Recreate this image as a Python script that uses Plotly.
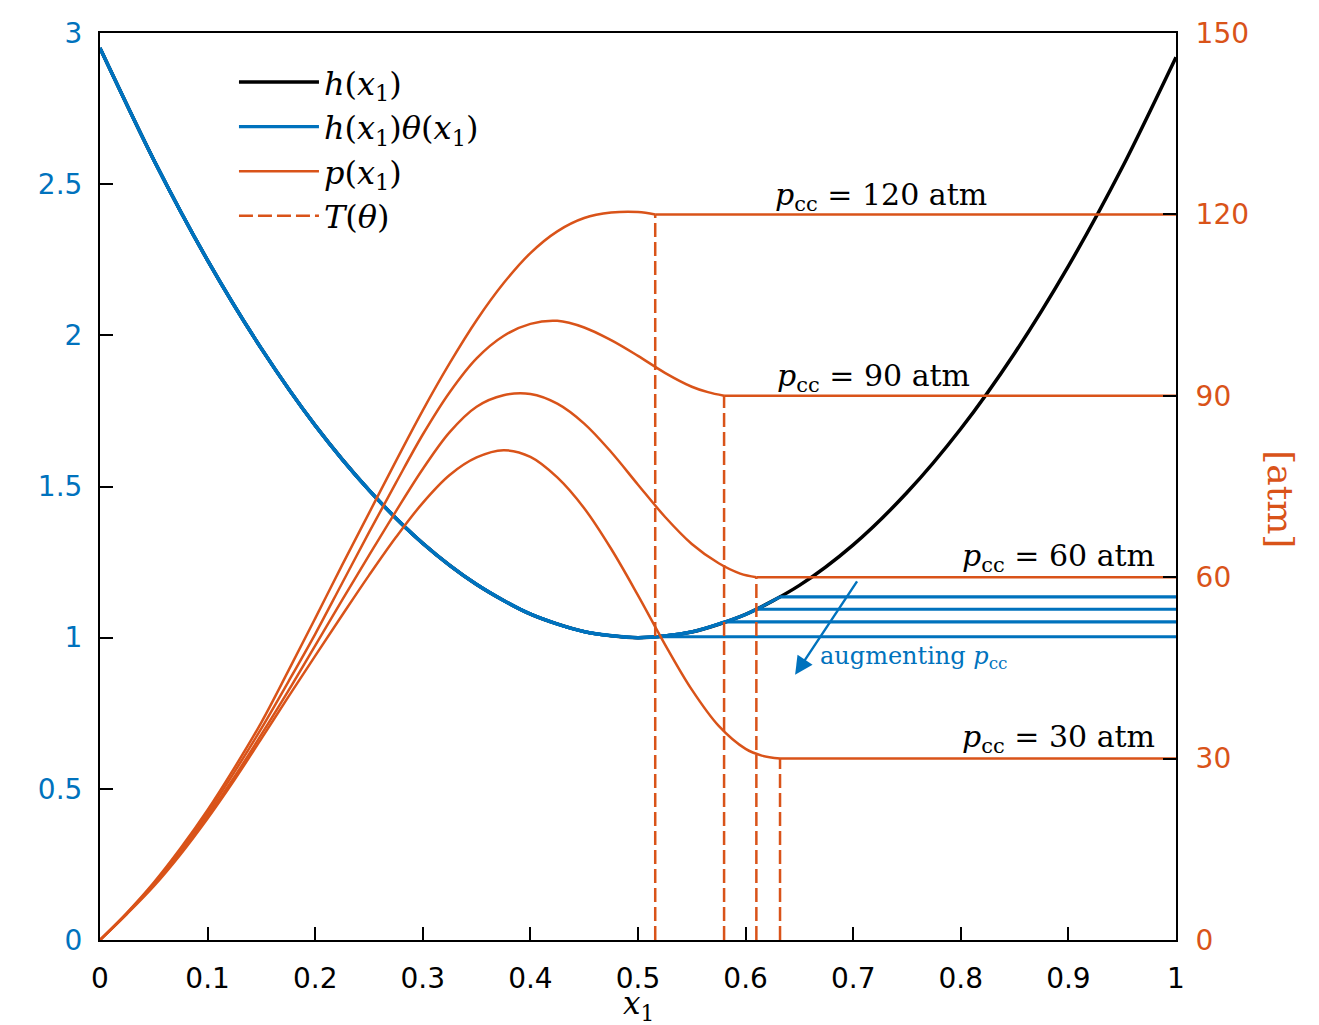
import plotly.graph_objects as go

BLUE = "#0072BD"
ORANGE = "#D95319"

# ---- data ----
x_h = [0, 0.05, 0.1, 0.15, 0.2, 0.25, 0.3, 0.35, 0.4, 0.45, 0.5,
       0.55, 0.6, 0.65, 0.7, 0.75, 0.8, 0.85, 0.9, 0.95, 1.0]
h_vals = [2.95, 2.58, 2.248, 1.956, 1.702, 1.488, 1.312, 1.176, 1.078, 1.02, 1.0,
          1.019, 1.077, 1.173, 1.307, 1.48, 1.691, 1.941, 2.229, 2.555, 2.92]

p_cc = [120, 90, 60, 30]                      # atm
x_switch = [0.516, 0.580, 0.610, 0.632]       # where T(theta) dashed lines sit
theta_level = [1.003, 1.052, 1.094, 1.135]    # h*theta plateau levels

x_p120 = [0, 0.025, 0.05, 0.075, 0.1, 0.125, 0.15, 0.175, 0.2, 0.225, 0.25, 0.275, 0.3,
          0.325, 0.35, 0.375, 0.4, 0.425, 0.45, 0.475, 0.5, 0.516]
p_p120 = [0, 4.5, 9.5, 15.2, 21.5, 28.5, 36, 44.5, 53.2, 62, 70.6, 79.2, 87.6,
          95.4, 102.5, 108.6, 113.6, 117.2, 119.4, 120.3, 120.4, 120]

x_p90 = [0, 0.025, 0.05, 0.075, 0.1, 0.125, 0.15, 0.175, 0.2, 0.225, 0.25, 0.275, 0.3,
         0.325, 0.35, 0.375, 0.4, 0.425, 0.45, 0.475, 0.5, 0.525, 0.55, 0.565, 0.58]
p_p90 = [0, 4.4, 9.3, 14.9, 21, 27.8, 35, 42.7, 50.6, 59, 67.4, 75.6, 83.6,
         90.6, 96.2, 99.9, 101.9, 102.4, 101.3, 99.2, 96.6, 93.8, 91.5, 90.6, 90]

x_p60 = [0, 0.025, 0.05, 0.075, 0.1, 0.125, 0.15, 0.175, 0.2, 0.225, 0.25, 0.275, 0.3,
         0.325, 0.35, 0.375, 0.4, 0.425, 0.45, 0.475, 0.5, 0.525, 0.55, 0.575, 0.595, 0.61]
p_p60 = [0, 4.4, 9.1, 14.5, 20.5, 27, 34, 41.2, 48.7, 56.2, 63.6, 70.9, 77.9,
         84, 88.2, 90.1, 90.3, 88.7, 85.4, 80.7, 75.3, 70, 65.5, 62.3, 60.6, 60]

x_p30 = [0, 0.025, 0.05, 0.075, 0.1, 0.125, 0.15, 0.175, 0.2, 0.225, 0.25, 0.275, 0.3,
         0.325, 0.35, 0.375, 0.4, 0.425, 0.45, 0.475, 0.5, 0.525, 0.55, 0.575, 0.6, 0.615, 0.632]
p_p30 = [0, 4.3, 8.9, 14.2, 20.1, 26.5, 33.3, 40.2, 47, 53.7, 60.3, 66.6, 72.3,
         76.9, 79.8, 81, 79.9, 76.5, 71.4, 64.7, 57, 48.9, 41.4, 35.4, 31.6, 30.5, 30]

x_ticks = [0, 0.1, 0.2, 0.3, 0.4, 0.5, 0.6, 0.7, 0.8, 0.9, 1]
x_ticktext = ["0", "0.1", "0.2", "0.3", "0.4", "0.5", "0.6", "0.7", "0.8", "0.9", "1"]
yl_ticks = [0, 0.5, 1, 1.5, 2, 2.5, 3]
yl_ticktext = ["0", "0.5", "1", "1.5", "2", "2.5", "3"]
yr_ticks = [0, 30, 60, 90, 120, 150]
yr_ticktext = ["0", "30", "60", "90", "120", "150"]

p_curves_x = [x_p120, x_p90, x_p60, x_p30]
p_curves_y = [p_p120, p_p90, p_p60, p_p30]

LEG_H = "<i>h</i>(<i>x</i><sub>1</sub>)"
LEG_HT = "<i>h</i>(<i>x</i><sub>1</sub>)<i>θ</i>(<i>x</i><sub>1</sub>)"
LEG_P = "<i>p</i>(<i>x</i><sub>1</sub>)"
LEG_T = "<i>T</i>(<i>θ</i>)"

fig = go.Figure()

# black h(x1)
fig.add_trace(go.Scatter(x=x_h, y=h_vals, mode="lines", name=LEG_H,
                         line=dict(color="black", width=3.5, shape="spline", smoothing=0.8),
                         legendgroup="a", showlegend=True, yaxis="y"))

# blue h*theta curves
for i, (xs, lv) in enumerate(zip(x_switch, theta_level)):
    cx = [x for x in x_h if x < xs] + [xs]
    cy = [h for x, h in zip(x_h, h_vals) if x < xs] + [lv]
    fig.add_trace(go.Scatter(x=cx, y=cy, mode="lines", name=LEG_HT,
                             line=dict(color=BLUE, width=3.2, shape="spline", smoothing=0.8),
                             legendgroup="b", showlegend=(i == 0), yaxis="y"))
    fig.add_trace(go.Scatter(x=[xs, 1.0], y=[lv, lv], mode="lines",
                             line=dict(color=BLUE, width=3.2),
                             legendgroup="b", showlegend=False, yaxis="y"))

# orange p(x1) curves
for i, (px, py, pc, xs) in enumerate(zip(p_curves_x, p_curves_y, p_cc, x_switch)):
    fig.add_trace(go.Scatter(x=px, y=py, mode="lines", name=LEG_P,
                             line=dict(color=ORANGE, width=2.5, shape="spline", smoothing=1.0),
                             legendgroup="c", showlegend=(i == 0), yaxis="y2"))
    fig.add_trace(go.Scatter(x=[px[-1], 1.0], y=[pc, pc], mode="lines",
                             line=dict(color=ORANGE, width=2.5),
                             legendgroup="c", showlegend=False, yaxis="y2"))

# dashed T(theta)
for i, (pc, xs) in enumerate(zip(p_cc, x_switch)):
    fig.add_trace(go.Scatter(x=[xs, xs], y=[0, pc], mode="lines", name=LEG_T,
                             line=dict(color=ORANGE, width=2.5, dash="14px,5px"),
                             legendgroup="d", showlegend=(i == 0), yaxis="y2"))

SERIF = "DejaVu Serif"
ann = []
labels = ["<i>p</i><sub>cc</sub> = 120 atm", "<i>p</i><sub>cc</sub> = 90 atm",
          "<i>p</i><sub>cc</sub> = 60 atm", "<i>p</i><sub>cc</sub> = 30 atm"]
lab_pos = [(0.625, 123.0, "left"), (0.627, 93.1, "left"), (0.982, 63.3, "right"), (0.982, 33.4, "right")]
for t, (lx, ly, anc) in zip(labels, lab_pos):
    ann.append(dict(x=lx, y=ly, xref="x", yref="y2", text=t, showarrow=False,
                    xanchor=anc, yanchor="middle", font=dict(family=SERIF, size=30, color="black")))

ann.append(dict(x=0.646, y=0.877, ax=0.7045, ay=1.191, xref="x", yref="y", axref="x", ayref="y",
                text="", showarrow=True, arrowhead=2, arrowsize=1.5, arrowwidth=2.4, arrowcolor=BLUE))
ann.append(dict(x=0.667, y=0.936, xref="x", yref="y", text="augmenting <i>p</i><sub>cc</sub>",
                showarrow=False, xanchor="left", yanchor="middle",
                font=dict(family=SERIF, size=24, color=BLUE)))
ann.append(dict(x=0.5, y=-0.072, xref="paper", yref="paper", text="<i>x</i><sub>1</sub>",
                showarrow=False, xanchor="center", yanchor="middle",
                font=dict(family=SERIF, size=31, color="black")))
ann.append(dict(x=1.0976, y=0.486, xref="paper", yref="paper", text="[atm]", textangle=90,
                showarrow=False, xanchor="center", yanchor="middle",
                font=dict(family=SERIF, size=36, color=ORANGE)))

TICKFONT = "DejaVu Sans"
fig.update_layout(
    width=1319, height=1025,
    margin=dict(l=100, r=143, t=33, b=85),
    paper_bgcolor="white", plot_bgcolor="white",
    showlegend=True,
    legend=dict(x=0.1245, y=0.976, xanchor="left", yanchor="top", bgcolor="rgba(0,0,0,0)",
                font=dict(family=SERIF, size=32, color="black"), tracegroupgap=0,
                traceorder="grouped", itemwidth=80),
    xaxis=dict(range=[0, 1], tickvals=x_ticks, ticktext=x_ticktext, ticks="inside", ticklen=13,
               tickwidth=1.5, tickcolor="black", showline=True, linecolor="black", linewidth=2,
               mirror=True, showgrid=False, zeroline=False, ticklabelstandoff=12,
               tickfont=dict(family=TICKFONT, size=28, color="black")),
    yaxis=dict(range=[0, 3], tickvals=yl_ticks, ticktext=yl_ticktext, ticks="inside", ticklen=13,
               tickwidth=1.5, tickcolor="black", showline=True, linecolor="black", linewidth=2,
               showgrid=False, zeroline=False, ticklabelstandoff=10,
               tickfont=dict(family=TICKFONT, size=28, color=BLUE)),
    yaxis2=dict(range=[0, 150], tickvals=yr_ticks, ticktext=yr_ticktext, overlaying="y", side="right",
                ticks="inside", ticklen=13, tickwidth=1.5, tickcolor="black", showline=True,
                linecolor="black", linewidth=2, showgrid=False, zeroline=False, ticklabelstandoff=12,
                tickfont=dict(family=TICKFONT, size=28, color=ORANGE)),
    annotations=ann,
)

fig.write_html("out.html")
